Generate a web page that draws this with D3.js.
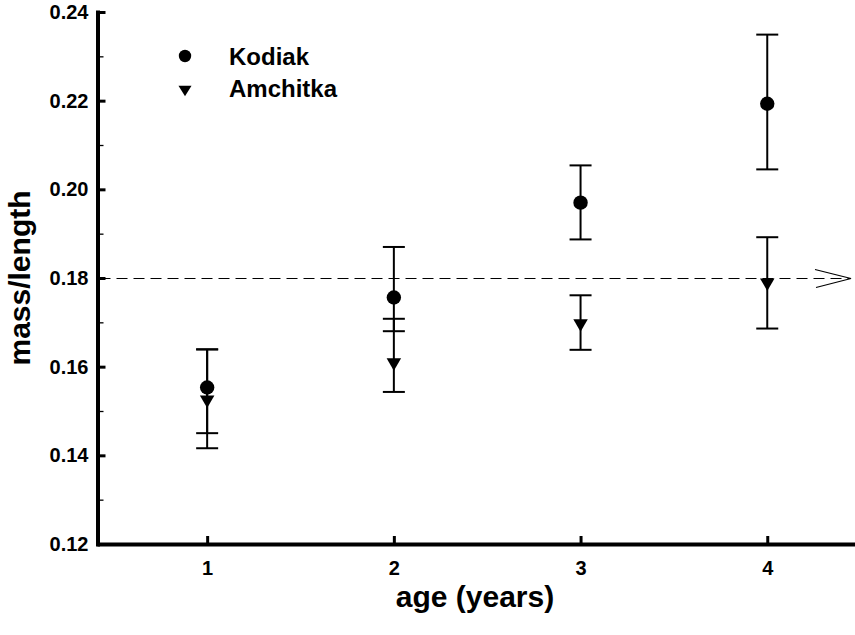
<!DOCTYPE html>
<html>
<head>
<meta charset="utf-8">
<script src="https://cdn.jsdelivr.net/npm/d3@7"></script>
<style>
  html, body { margin: 0; padding: 0; background: #fff; }
  svg { display: block; font-family: "Liberation Sans", Arial, sans-serif; font-weight: bold; }
</style>
</head>
<body>
<svg id="chart" width="855" height="635"></svg>
<script>
// ---- data ----
const ages = [1, 2, 3, 4];
const kodiakMean = [0.1553, 0.1756, 0.1970, 0.2193];
const kodiakLow  = [0.1416, 0.1680, 0.1887, 0.2045];
const kodiakHigh = [0.1639, 0.1870, 0.2054, 0.2349];
const amchitkaMean = [0.1521, 0.1605, 0.1693, 0.1785];
const amchitkaLow  = [0.1450, 0.1543, 0.1638, 0.1686];
const amchitkaHigh = [0.1639, 0.1708, 0.1761, 0.1892];
const yMajorTicks = [0.12, 0.14, 0.16, 0.18, 0.20, 0.22, 0.24];
const yMinorTicks = [0.13, 0.15, 0.17, 0.19, 0.21, 0.23];
const referenceValue = 0.18;
const seriesNames = ["Kodiak", "Amchitka"];
const xTitle = "age (years)";
const yTitle = "mass/length";

// ---- layout ----
const svg = d3.select("#chart");
const x = d3.scaleLinear().domain([0.41, 4.47]).range([97, 855]);
const y = d3.scaleLinear().domain([0.12, 0.24]).range([544, 12]);
const axisX = 97.5, axisY = 544;

// minor y ticks
svg.append("g")
  .attr("transform", `translate(${axisX},0)`)
  .call(d3.axisLeft(y).tickValues(yMinorTicks).tickSize(-6).tickFormat(""))
  .call(g => g.select(".domain").remove())
  .call(g => g.selectAll(".tick line").attr("stroke", "#000").attr("stroke-width", 1.3));

// y axis
const gy = svg.append("g")
  .attr("transform", `translate(${axisX},0)`)
  .call(d3.axisLeft(y).tickValues(yMajorTicks).tickSize(-8).tickSizeOuter(0)
        .tickPadding(9).tickFormat(d3.format(".2f")));
gy.select(".domain").attr("stroke", "#000").attr("stroke-width", 4).attr("stroke-linecap", "square");
gy.selectAll(".tick line").attr("stroke", "#000").attr("stroke-width", 3);
gy.selectAll(".tick text").attr("font-size", 20).attr("font-weight", "bold")
  .attr("font-family", "Liberation Sans, Arial, sans-serif").attr("fill", "#000");

// x axis
const gx = svg.append("g")
  .attr("transform", `translate(0,${axisY})`)
  .call(d3.axisBottom(x).tickValues(ages).tickSize(-8).tickSizeOuter(0)
        .tickPadding(17).tickFormat(d3.format("d")));
gx.select(".domain").attr("stroke", "#000").attr("stroke-width", 4);
gx.selectAll(".tick line").attr("stroke", "#000").attr("stroke-width", 3);
gx.selectAll(".tick text").attr("font-size", 20).attr("font-weight", "bold")
  .attr("font-family", "Liberation Sans, Arial, sans-serif").attr("fill", "#000");

// axis titles
svg.append("text")
  .attr("x", 475).attr("y", 607)
  .attr("text-anchor", "middle")
  .attr("font-size", 30)
  .text(xTitle);
svg.append("text")
  .attr("transform", `translate(30,${y(0.18)}) rotate(-90)`)
  .attr("text-anchor", "middle")
  .attr("font-size", 30)
  .text(yTitle);

// reference dashed line with open arrow
const refY = Math.round(y(referenceValue)) + 0.5;
const lineEnd = 851;
svg.append("line")
  .attr("x1", axisX + 2).attr("x2", lineEnd)
  .attr("y1", refY).attr("y2", refY)
  .attr("stroke", "#000").attr("stroke-width", 1)
  .attr("stroke-dasharray", "11,6");
svg.append("path")
  .attr("d", `M${lineEnd - 36},${refY - 9} L${lineEnd},${refY} L${lineEnd - 35},${refY + 9}`)
  .attr("fill", "none").attr("stroke", "#000").attr("stroke-width", 1.2);

// error bars
function errorBars(low, high) {
  const g = svg.append("g").attr("stroke", "#000").attr("stroke-width", 2);
  ages.forEach((a, i) => {
    const cx = x(a);
    g.append("line").attr("x1", cx).attr("x2", cx).attr("y1", y(low[i])).attr("y2", y(high[i]));
    g.append("line").attr("x1", cx - 11).attr("x2", cx + 11).attr("y1", y(low[i])).attr("y2", y(low[i]));
    g.append("line").attr("x1", cx - 11).attr("x2", cx + 11).attr("y1", y(high[i])).attr("y2", y(high[i]));
  });
}
errorBars(kodiakLow, kodiakHigh);
errorBars(amchitkaLow, amchitkaHigh);

// markers
const triPath = (w, h) => `M${-w/2},${-h/2} L${w/2},${-h/2} L0,${h/2} Z`;
svg.append("g").selectAll("circle")
  .data(ages.map((a, i) => [a, kodiakMean[i]]))
  .join("circle")
  .attr("cx", d => x(d[0])).attr("cy", d => y(d[1])).attr("r", 7.2)
  .attr("fill", "#000");
svg.append("g").selectAll("path")
  .data(ages.map((a, i) => [a, amchitkaMean[i]]))
  .join("path")
  .attr("transform", d => `translate(${x(d[0])},${y(d[1])})`)
  .attr("d", triPath(14.5, 12.5))
  .attr("fill", "#000");

// legend
const legend = svg.append("g");
legend.append("circle").attr("cx", 185).attr("cy", 56).attr("r", 6.2).attr("fill", "#000");
legend.append("text").attr("x", 229).attr("y", 57).attr("dy", "0.35em")
  .attr("font-size", 24).text(seriesNames[0]);
legend.append("path").attr("transform", "translate(185,91)").attr("d", triPath(13, 10.5)).attr("fill", "#000");
legend.append("text").attr("x", 229).attr("y", 89).attr("dy", "0.35em")
  .attr("font-size", 24).text(seriesNames[1]);
</script>
</body>
</html>
